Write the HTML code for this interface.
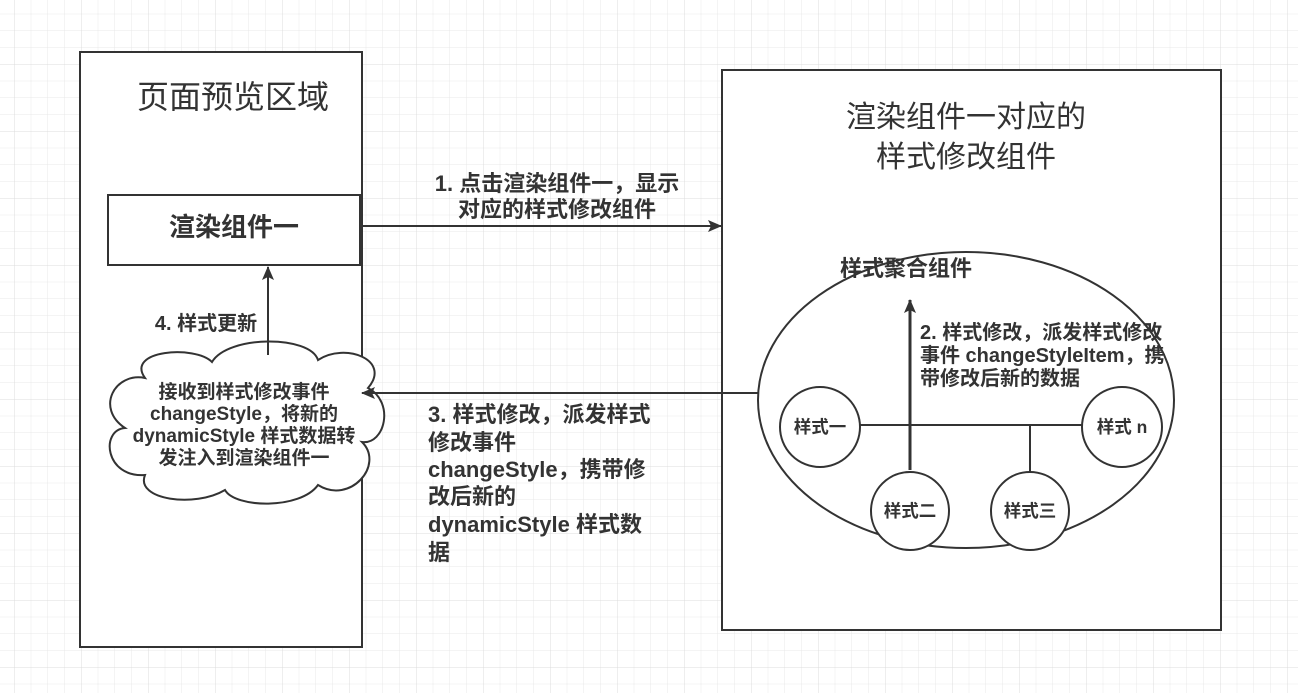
<!DOCTYPE html>
<html><head><meta charset="utf-8"><style>
html,body{margin:0;padding:0;background:#fff}
svg text{font-family:"Liberation Sans","Noto Sans CJK SC",sans-serif;fill:#333;font-weight:bold}
text.n{font-weight:normal}
</style></head><body>
<svg width="1298" height="693" viewBox="0 0 1298 693" xmlns="http://www.w3.org/2000/svg">
<defs>
<pattern id="g" x="14" y="-3" width="16.75" height="16.75" patternUnits="userSpaceOnUse">
<path d="M0 0H16.75M0 0V16.75" stroke="#e8e8e8" stroke-width="1" fill="none"/>
</pattern>
<pattern id="G" x="14" y="-3" width="67" height="67" patternUnits="userSpaceOnUse">
<path d="M0 0H67M0 0V67" stroke="#dcdcdc" stroke-width="1" fill="none"/>
</pattern>
<marker id="a" markerWidth="14" markerHeight="12" refX="13" refY="6" orient="auto" markerUnits="userSpaceOnUse">
<path d="M0 0L14 6L0 12L3 6Z" fill="#333"/>
</marker>
</defs>
<rect width="1298" height="693" fill="url(#g)"/>
<rect width="1298" height="693" fill="url(#G)"/>
<g stroke="#333" stroke-width="2" fill="#fff">
<rect x="80" y="52" width="282" height="595"/>
<rect x="722" y="70" width="499" height="560"/>
<rect x="108" y="195" width="252" height="70"/>
<ellipse cx="966" cy="400" rx="208" ry="148"/>
<path d="M145 378 C125 350 195 345 212 362 C228 335 310 335 318 360 C345 342 392 360 368 388 C395 402 385 445 362 442 C385 465 350 505 318 485 C300 510 235 508 225 490 C195 508 135 500 145 475 C105 478 100 430 125 428 C95 408 115 372 145 378Z"/>
</g>
<g stroke="#333" stroke-width="2" fill="none">
<line x1="362" y1="226" x2="721" y2="226" marker-end="url(#a)"/>
<line x1="758" y1="393" x2="362" y2="393" marker-end="url(#a)"/>
<line x1="268" y1="355" x2="268" y2="267" marker-end="url(#a)"/>
<line x1="910" y1="470" x2="910" y2="300" marker-end="url(#a)" stroke-width="3"/>
<line x1="860" y1="425" x2="1082" y2="425"/>
<line x1="1030" y1="425" x2="1030" y2="472"/>
</g>
<g stroke="#333" stroke-width="2" fill="#fff">
<circle cx="820" cy="427" r="40"/>
<circle cx="1122" cy="427" r="40"/>
<circle cx="910" cy="511" r="39"/>
<circle cx="1030" cy="511" r="39"/>
</g>
<text class="n" x="233" y="108" font-size="32" text-anchor="middle">页面预览区域</text>
<text class="n" x="966" y="127" font-size="30" text-anchor="middle">渲染组件一对应的</text>
<text class="n" x="966" y="167" font-size="30" text-anchor="middle">样式修改组件</text>
<text x="234" y="236" text-anchor="middle" font-size="26">渲染组件一</text>
<text x="557" y="191" font-size="22" text-anchor="middle">1. 点击渲染组件一，显示</text>
<text x="557" y="217" font-size="22" text-anchor="middle">对应的样式修改组件</text>
<text x="206" y="330" font-size="20" text-anchor="middle">4. 样式更新</text>
<g text-anchor="middle" font-size="19">
<text x="244" y="398">接收到样式修改事件</text>
<text x="244" y="420">changeStyle，将新的</text>
<text x="244" y="442">dynamicStyle 样式数据转</text>
<text x="244" y="464">发注入到渲染组件一</text>
</g>
<g font-size="22">
<text x="428" y="422">3. 样式修改，派发样式</text>
<text x="428" y="450">修改事件</text>
<text x="428" y="477">changeStyle，携带修</text>
<text x="428" y="504">改后新的</text>
<text x="428" y="532">dynamicStyle 样式数</text>
<text x="428" y="560">据</text>
</g>
<text x="840" y="276" font-size="22">样式聚合组件</text>
<g font-size="20">
<text x="920" y="339">2. 样式修改，派发样式修改</text>
<text x="920" y="362">事件 changeStyleItem，携</text>
<text x="920" y="385">带修改后新的数据</text>
</g>
<g text-anchor="middle" font-size="17.5">
<text x="820" y="433">样式一</text>
<text x="1122" y="433">样式 n</text>
<text x="910" y="517">样式二</text>
<text x="1030" y="517">样式三</text>
</g>
</svg>
</body></html>
